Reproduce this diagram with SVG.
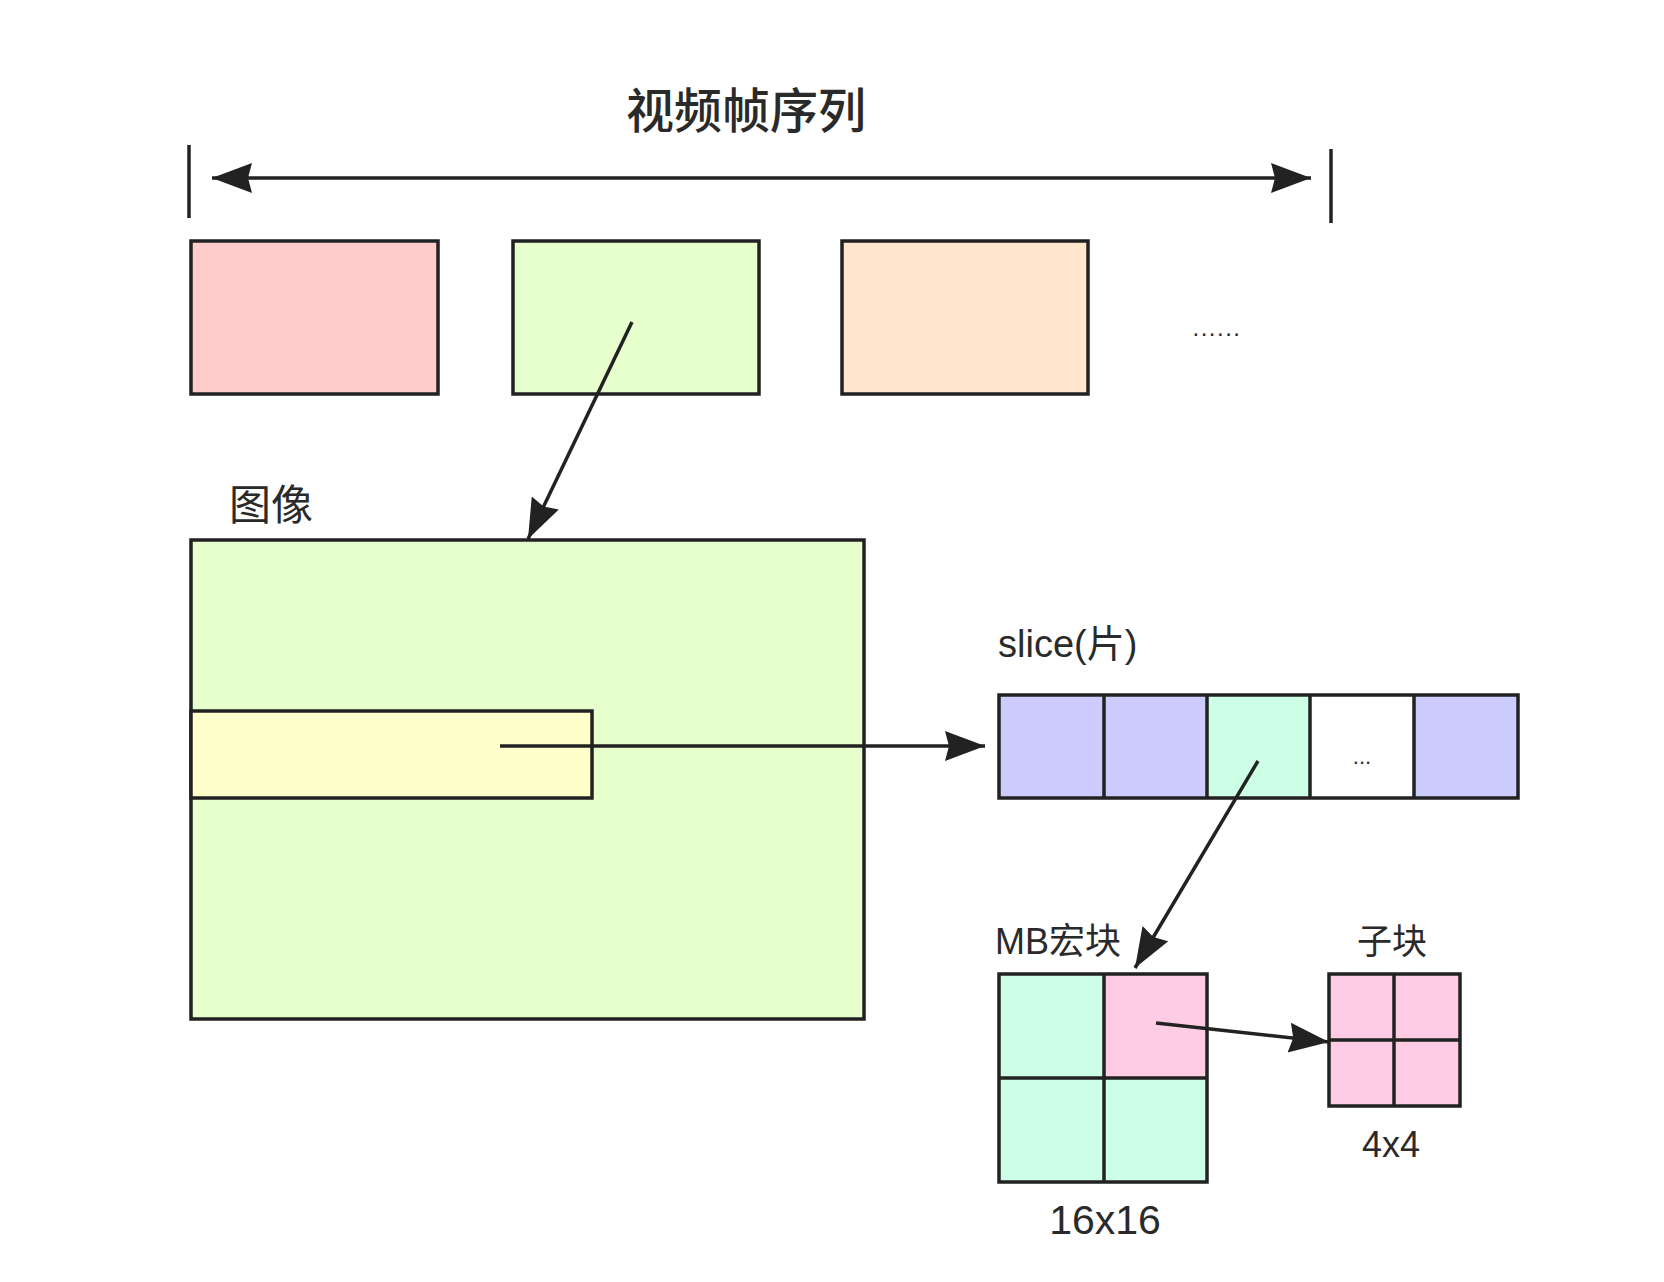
<svg xmlns="http://www.w3.org/2000/svg" width="1664" height="1282" viewBox="0 0 1664 1282">
<style>
.box{stroke:#222;stroke-width:3.5}
.ln{stroke:#222;stroke-width:3.5;fill:none}
.t{font-family:"Liberation Sans","Noto Sans CJK SC",sans-serif;fill:#2a2a2a}
</style>
<defs>
<marker id="ah" markerUnits="userSpaceOnUse" markerWidth="42" markerHeight="32" refX="40" refY="15" orient="auto-start-reverse" viewBox="0 0 42 32">
<path d="M0,0 L40,15 L0,30 L4,15 z" fill="#222"/>
</marker>
</defs>
<rect width="1664" height="1282" fill="#ffffff"/>

<g id="title">
<text class="t" x="746" y="128" font-size="48" font-weight="500" text-anchor="middle">视频帧序列</text>
<line class="ln" x1="189" y1="145" x2="189" y2="218" stroke-width="2.5"/>
<line class="ln" x1="1331" y1="149" x2="1331" y2="223" stroke-width="2.5"/>
</g>

<g id="frame1"><rect class="box" x="191" y="241" width="247" height="153" fill="#FFCCCC"/></g>
<g id="frame2"><rect class="box" x="513" y="241" width="246" height="153" fill="#E6FFCC"/></g>
<g id="frame3"><rect class="box" x="842" y="241" width="246" height="153" fill="#FFE6CC"/></g>
<g id="more"><text class="t" x="1217" y="336" font-size="24" text-anchor="middle" letter-spacing="1.5">......</text></g>

<g id="picture">
<text class="t" x="229" y="520" font-size="42">图像</text>
<rect class="box" x="191" y="540" width="673" height="479" fill="#E6FFCC"/>
</g>
<g id="slice-region"><rect class="box" x="191" y="711" width="401" height="87" fill="#FFFFCC"/></g>

<g id="slice">
<text class="t" x="998" y="657" font-size="38">slice(片)</text>
<rect x="999" y="695" width="105" height="103" fill="#CCCCFF"/>
<rect x="1104" y="695" width="103" height="103" fill="#CCCCFF"/>
<rect x="1207" y="695" width="103" height="103" fill="#CCFFE6"/>
<rect x="1310" y="695" width="104" height="103" fill="#FFFFFF"/>
<rect x="1414" y="695" width="104" height="103" fill="#CCCCFF"/>
<rect class="box" x="999" y="695" width="519" height="103" fill="none"/>
<path class="ln" d="M1104,695V798M1207,695V798M1310,695V798M1414,695V798"/>
<text class="t" x="1362" y="764" font-size="22" text-anchor="middle">...</text>
</g>

<g id="macroblock">
<text class="t" x="995" y="954" font-size="36">MB宏块</text>
<rect x="999" y="974" width="105" height="104" fill="#CCFFE6"/>
<rect x="1104" y="974" width="103" height="104" fill="#FFCCE6"/>
<rect x="999" y="1078" width="208" height="104" fill="#CCFFE6"/>
<rect class="box" x="999" y="974" width="208" height="208" fill="none"/>
<path class="ln" d="M1104,974V1182M999,1078H1207"/>
<text class="t" x="1105" y="1234" font-size="41" text-anchor="middle">16x16</text>
</g>

<g id="subblock">
<text class="t" x="1392" y="954" font-size="35" text-anchor="middle">子块</text>
<rect class="box" x="1329" y="974" width="131" height="132" fill="#FFCCE6"/>
<path class="ln" d="M1394,974V1106M1329,1040H1460"/>
<text class="t" x="1391" y="1157" font-size="36" text-anchor="middle">4x4</text>
</g>

<g id="connectors">
<line class="ln" x1="212" y1="178" x2="1311" y2="178" marker-start="url(#ah)" marker-end="url(#ah)"/>
<line class="ln" x1="632" y1="322" x2="528" y2="539" marker-end="url(#ah)"/>
<line class="ln" x1="500" y1="746" x2="985" y2="746" marker-end="url(#ah)"/>
<line class="ln" x1="1258" y1="761" x2="1135" y2="968" marker-end="url(#ah)"/>
<line class="ln" x1="1156" y1="1023" x2="1329" y2="1042" marker-end="url(#ah)"/>
</g>
</svg>
